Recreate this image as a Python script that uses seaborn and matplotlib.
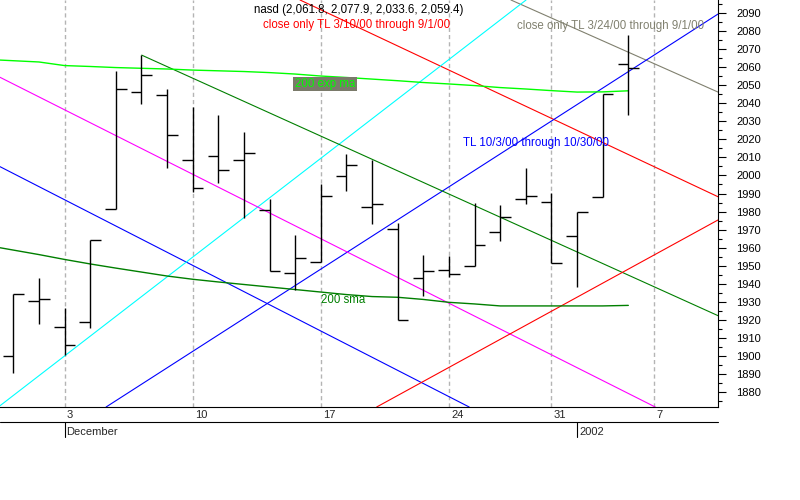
import numpy as np
import seaborn as sns
import matplotlib.pyplot as plt
from matplotlib.ticker import MultipleLocator, FixedLocator, NullFormatter

# daily bars, 29 Nov 2001 .. 4 Jan 2002 (trading days only)
opens = [1899.8, 1930.3, 1915.7, 1918.5, 1981.2, 2046.1, 2044.6, 2008.6, 2010.6, 2008.6,
         1980.8, 1945.7, 1952.0, 1999.5, 1982.3, 1970.1, 1943.1, 1947.5, 1949.6, 1968.6,
         1986.8, 1985.1, 1966.2, 1988.0, 2061.8]
highs = [1934.0, 1942.9, 1926.3, 1964.0, 2058.0, 2066.8, 2048.0, 2038.0, 2033.5, 2024.1,
         1986.9, 1967.0, 1995.1, 2011.9, 2008.6, 1973.4, 1955.7, 1955.3, 1984.5, 1983.4,
         2004.0, 1990.1, 1979.9, 2045.0, 2077.9]
lows = [1890.5, 1917.7, 1900.4, 1915.2, 1981.2, 2039.5, 2004.0, 1991.0, 1996.0, 1976.6,
        1947.1, 1936.4, 1952.0, 1991.5, 1972.9, 1919.8, 1933.3, 1943.8, 1949.6, 1963.5,
        1984.0, 1951.3, 1937.9, 1988.0, 2033.6]
closes = [1934.0, 1931.3, 1905.7, 1964.0, 2047.8, 2055.7, 2022.3, 1993.0, 2003.0, 2012.3,
          1947.1, 1954.2, 1988.4, 2005.6, 1984.0, 1919.8, 1947.0, 1945.1, 1961.2, 1977.1,
          1988.4, 1951.3, 1979.9, 2045.0, 2059.4]

# moving averages, from the day before the first bar to the last bar
ema200 = [2064.4, 2063.7, 2063.0, 2061.0, 2060.5, 2059.9, 2059.5, 2059.1, 2058.5, 2058.1,
          2057.7, 2057.1, 2056.3, 2055.2, 2054.4, 2053.5, 2052.6, 2051.6, 2050.8, 2049.9,
          2048.8, 2048.0, 2047.1, 2046.3, 2046.4, 2047.0]
sma200 = [1961.1, 1958.6, 1956.1, 1953.4, 1950.9, 1948.6, 1946.4, 1944.2, 1942.4, 1940.9,
          1939.5, 1938.1, 1936.7, 1935.3, 1933.9, 1932.8, 1932.4, 1931.2, 1929.6, 1928.7,
          1927.6, 1927.6, 1927.6, 1927.6, 1927.6, 1927.9]

# trend lines: (bar index, price) at both ends
tl_red_upper = ([11.19, 27.5], [2097.4, 1988.2])
tl_gray = ([19.42, 27.5], [2097.4, 2046.3])
tl_blue_up = ([3.62, 27.5], [1871.5, 2089.6])
tl_blue_down = ([-0.52, 17.79], [2004.9, 1871.5])
tl_cyan = ([-0.52, 20.01], [1872.2, 2097.4])
tl_magenta = ([-0.52, 25.05], [2054.5, 1871.5])
tl_green_down = ([5.01, 27.5], [2066.8, 1922.2])
tl_red_lower = ([14.18, 27.5], [1871.5, 1975.3])

monday_idx = [2, 7, 12, 17, 21, 25]
monday_labels = ['3', '10', '17', '24', '31', '7']
month_idx = [2, 22]
month_labels = ['December', '2002']

sns.set_style('white')
plt.rcParams['font.family'] = ['Liberation Sans', 'DejaVu Sans']
plt.rcParams['font.size'] = 8

fig = plt.figure(figsize=(8, 5), dpi=100)
ax = fig.add_axes([0, 93 / 500, 718 / 800, 407 / 500])

ax.set_xlim(-0.52, 27.5)
ax.set_ylim(1871.5, 2097.4)

# weekly dashed grid
for m in monday_idx:
    ax.axvline(m, color='#b4b4b4', lw=1, linestyle=(0, (3, 2.2)), zorder=0)

# trend lines
trend = [(tl_red_upper, '#ff0000'), (tl_gray, '#80806f'), (tl_blue_up, '#0000ff'),
         (tl_blue_down, '#0000ff'), (tl_cyan, '#00ffff'), (tl_magenta, '#ff00ff'),
         (tl_green_down, '#007f00'), (tl_red_lower, '#ff0000')]
for (xs, ys), c in trend:
    ax.plot(xs, ys, color=c, lw=0.8, zorder=1)

ma_x = np.arange(-1, len(ema200) - 1)
sns.lineplot(x=ma_x, y=ema200, color='#00ff00', lw=1, ax=ax, zorder=2)
sns.lineplot(x=ma_x, y=sma200, color='#007f00', lw=1, ax=ax, zorder=2)

# OHLC bars
x = np.arange(len(opens))
ax.vlines(x, lows, highs, color='black', lw=1, zorder=3)
ax.hlines(opens, x - 0.42, x, color='black', lw=1, zorder=3)
ax.hlines(closes, x, x + 0.42, color='black', lw=1, zorder=3)

# axes look
ax.spines['top'].set_visible(False)
ax.spines['left'].set_visible(False)
ax.spines['right'].set_color('black')
ax.spines['bottom'].set_color('black')

ax.yaxis.tick_right()
ax.yaxis.set_major_locator(MultipleLocator(10))
ax.yaxis.set_minor_locator(MultipleLocator(5))
ax.set_yticks(np.arange(1880, 2091, 10))
ax.tick_params(axis='y', which='major', length=5.8, width=0.8, pad=7.5, labelsize=8, colors='black')
ax.tick_params(axis='y', which='minor', length=2.9, width=0.8, colors='black')

ax.xaxis.set_major_locator(FixedLocator(monday_idx))
ax.xaxis.set_minor_locator(FixedLocator(np.arange(-0, 28)))
ax.xaxis.set_major_formatter(NullFormatter())
ax.tick_params(axis='x', which='major', length=10.8, width=0.8, colors='black')
ax.tick_params(axis='x', which='minor', length=3.6, width=0.8, colors='black')
ax.set_xlabel('')
ax.set_ylabel('')

tr = ax.get_xaxis_transform()
for m, lab in zip(monday_idx, monday_labels):
    ax.text(m + 0.08, -0.0205, lab, transform=tr, ha='left', va='center', fontsize=8, clip_on=False)
ax.plot([0, 1], [-0.0369, -0.0369], transform=ax.transAxes, color='black', lw=0.8, clip_on=False)
for m, lab in zip(month_idx, month_labels):
    ax.plot([m, m], [-0.0369, -0.0737], transform=tr, color='black', lw=0.8, clip_on=False)
    ax.text(m + 0.08, -0.061, lab, transform=tr, ha='left', va='center', fontsize=8, clip_on=False)

# annotations
fig.text(359 / 800, 1 - 10 / 500, 'nasd (2,061.8, 2,077.9, 2,033.6, 2,059.4)',
         ha='center', va='center', fontsize=8.3, color='black')
fig.text(357 / 800, 1 - 25 / 500, 'close only TL 3/10/00 through 9/1/00',
         ha='center', va='center', fontsize=8.3, color='#ff0000')
fig.text(517 / 800, 1 - 26 / 500, 'close only TL 3/24/00 through 9/1/00',
         ha='left', va='center', fontsize=8.3, color='#80806f')
fig.text(463 / 800, 1 - 143 / 500, 'TL 10/3/00 through 10/30/00',
         ha='left', va='center', fontsize=8.3, color='#0000ff')
fig.text(321 / 800, 1 - 300 / 500, '200 sma',
         ha='left', va='center', fontsize=8.3, color='#007f00')
fig.text(325 / 800, 1 - 84 / 500, '200 exp ma', ha='center', va='center', fontsize=8.3,
         color='#00ff00',
         bbox=dict(boxstyle='square,pad=0.12', facecolor='#7a7a6a', edgecolor='none'))

fig.savefig('out.png', dpi=100)
